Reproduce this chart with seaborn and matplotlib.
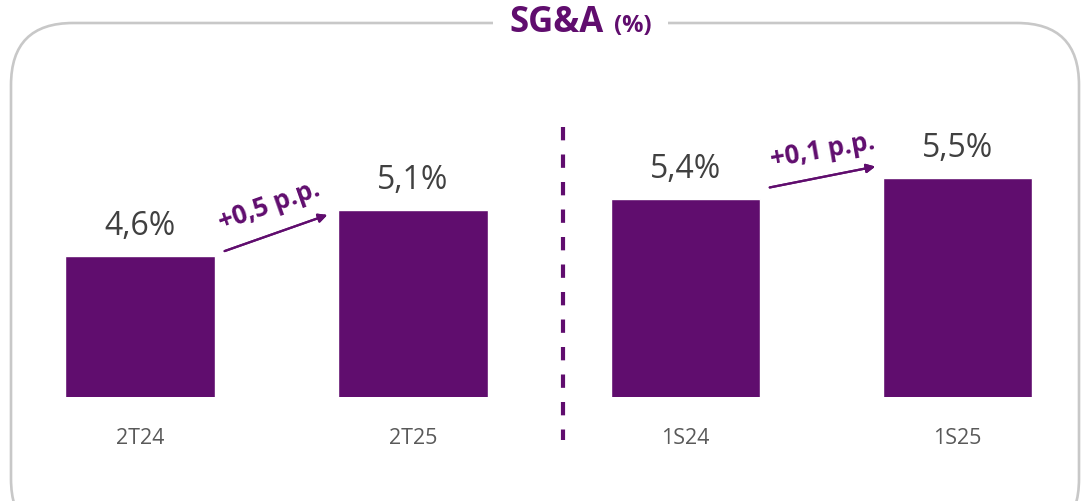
import numpy as np
import pandas as pd
import matplotlib.pyplot as plt
import seaborn as sns
from matplotlib.patches import FancyBboxPatch, Rectangle
from matplotlib.lines import Line2D
from matplotlib.transforms import IdentityTransform

# data
quarter_cats = ["2T24", "2T25"]
quarter_vals = [4.6, 5.1]
semester_cats = ["1S24", "1S25"]
semester_vals = [5.4, 5.5]
quarter_delta = "+0,5 p.p."
semester_delta = "+0,1 p.p."

purple = "#600D6E"
grey_txt = "#595959"

sns.set_theme(style="white")
plt.rcParams['font.family'] = ['Open Sans', 'DejaVu Sans']

W, H = 1086, 501
fig = plt.figure(figsize=(W / 100, H / 100), dpi=100)

def px(x, y):
    # image pixel coords (top-left origin) -> figure fraction
    return x / W, 1 - y / H

bar_bottom = 397
ax_top = 100
ax_h = (bar_bottom - ax_top) / H

ax1 = fig.add_axes([3.5 / W, 1 - bar_bottom / H, 546 / W, ax_h])
ax2 = fig.add_axes([549.5 / W, 1 - bar_bottom / H, 544 / W, ax_h])

panels = [
    (ax1, quarter_cats, quarter_vals, 3.067, 92.0),
    (ax2, semester_cats, semester_vals, 4.457, 210.0),
]

for ax, cats, vals, y0, scale in panels:
    df = pd.DataFrame({"cat": cats, "val": vals})
    sns.barplot(data=df, x="cat", y="val", ax=ax, color=purple,
                saturation=1, width=0.55, errorbar=None)
    ax.set_xlim(-0.5, 1.5)
    ax.set_ylim(y0, y0 + (bar_bottom - ax_top) / scale)
    ax.axis("off")
    for i, v in enumerate(vals):
        ax.annotate(f"{v:.1f}%".replace(".", ","), xy=(i, v), xytext=(0, 29),
                    textcoords="offset pixels", ha="center", va="center",
                    fontsize=23, color="#404040")
        ax.annotate(cats[i], xy=(i, y0), xytext=(0, -41),
                    textcoords="offset pixels", ha="center", va="center",
                    fontsize=15.5, color=grey_txt)

# rounded frame
frame = FancyBboxPatch((11, -40), 1068, 478 + 40,
                       boxstyle="round,pad=0,rounding_size=62",
                       transform=IdentityTransform(), fill=False,
                       edgecolor="#c8c8c8", linewidth=1.9)
fig.add_artist(frame)
fig.add_artist(Rectangle((493, 501 - 40), 175, 34, transform=IdentityTransform(),
                         facecolor="white", edgecolor="none", zorder=3))

# title
fig.text(*px(557, 23), "SG&A", ha="center", va="center", fontsize=25,
         fontweight="bold", color=purple, zorder=4)
fig.text(*px(633, 26), "(%)", ha="center", va="center", fontsize=17,
         fontweight="bold", color=purple, zorder=4)

# dashed divider
fig.add_artist(Line2D([563 / W, 563 / W], [1 - 127 / H, 1 - 440 / H],
                      color=purple, linewidth=3, linestyle=(0, (3.2, 3.4))))

# delta arrows
fig.add_artist(plt.annotate("", xy=px(330, 214), xytext=px(222, 252),
                            xycoords="figure fraction",
                            arrowprops=dict(arrowstyle="-|>", color=purple,
                                            lw=1.6, mutation_scale=13)))
fig.text(*px(269, 206), quarter_delta, ha="center", va="center", rotation=19.5,
         fontsize=18.5, fontweight="bold", color=purple)

fig.add_artist(plt.annotate("", xy=px(878, 166), xytext=px(767, 188),
                            xycoords="figure fraction",
                            arrowprops=dict(arrowstyle="-|>", color=purple,
                                            lw=1.6, mutation_scale=13)))
fig.text(*px(823, 151), semester_delta, ha="center", va="center", rotation=10,
         fontsize=18.5, fontweight="bold", color=purple)

fig.savefig("out.png", dpi=100, facecolor="white")
